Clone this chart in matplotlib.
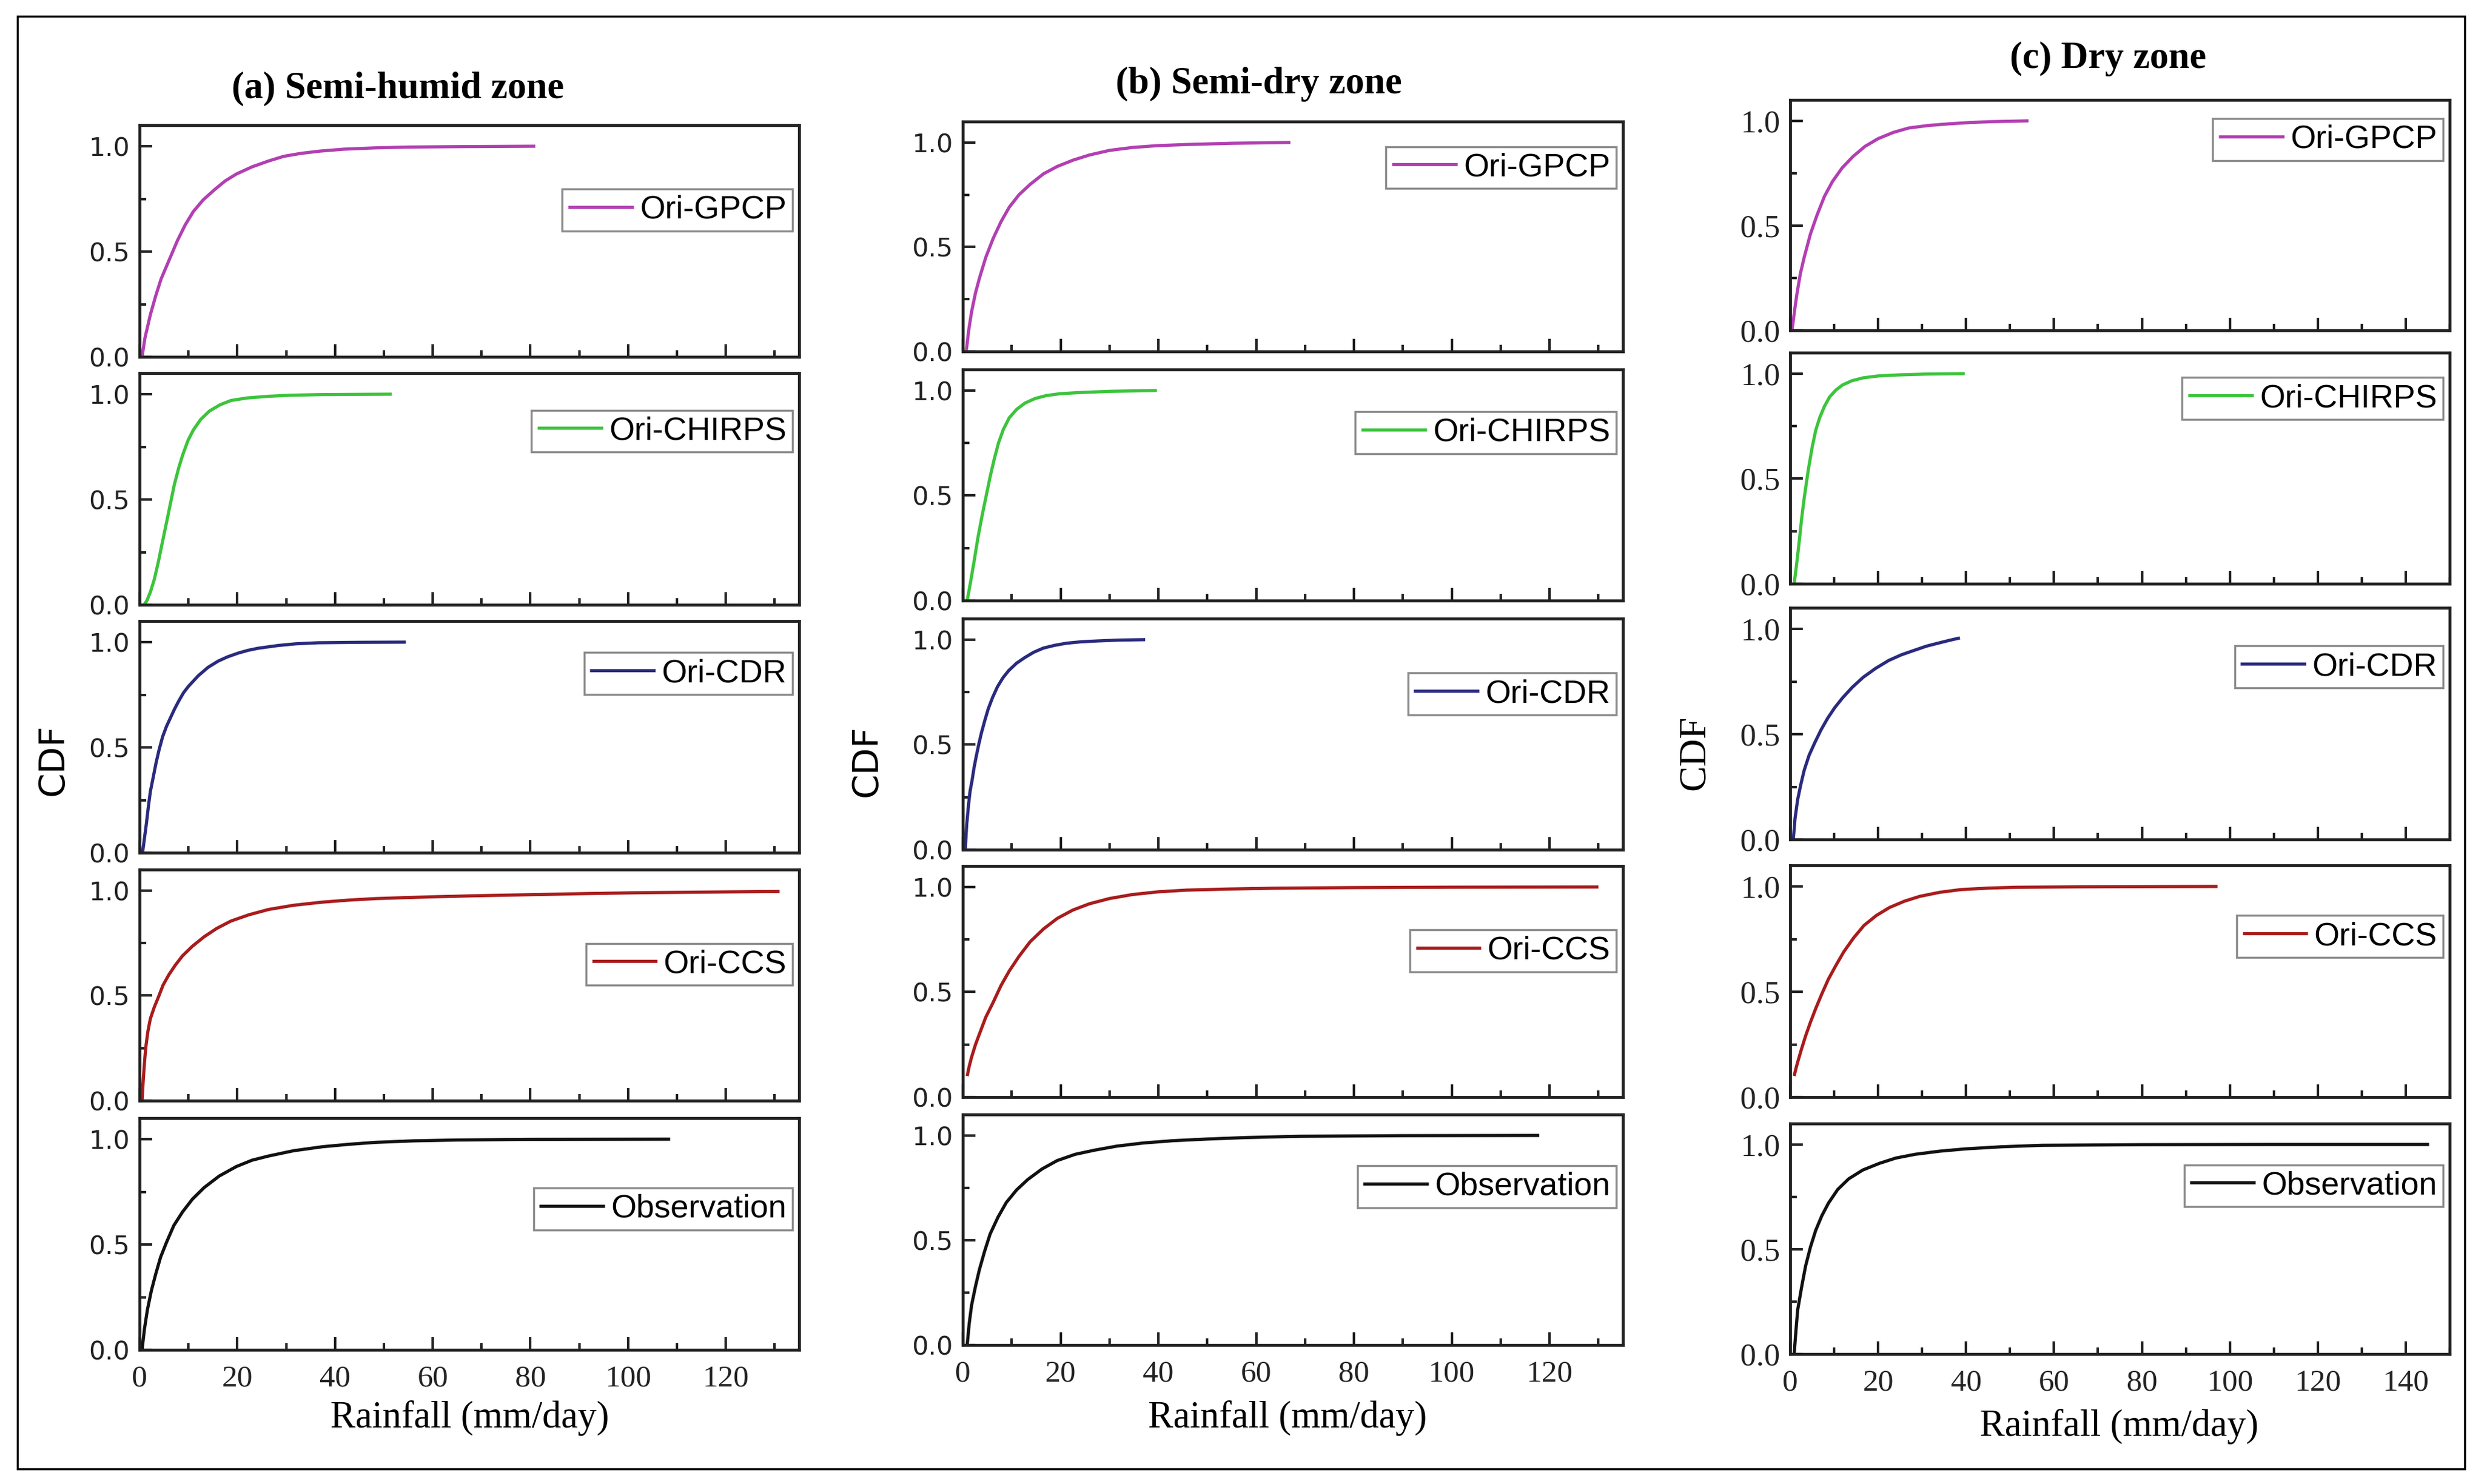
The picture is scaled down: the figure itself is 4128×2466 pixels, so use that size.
import matplotlib
matplotlib.use("Agg")
import matplotlib.pyplot as plt
from matplotlib.patches import Rectangle
from matplotlib.ticker import MultipleLocator, FormatStrFormatter

# ---- data (rainfall in mm/day, CDF values) ----
zones = ["(a) Semi-humid zone", "(b) Semi-dry zone", "(c) Dry zone"]
products = ["Ori-GPCP", "Ori-CHIRPS", "Ori-CDR", "Ori-CCS", "Observation"]
colors = ["#b23fb2", "#3cc43c", "#2a2a7e", "#a81c1c", "#111111"]

# semi-humid zone
a_gpcp_x = [0.5, 1.1, 2.2, 3.3, 4.4, 5.5, 7.7, 9.3, 11, 13, 15.4, 17.5, 19.8, 23, 26.4, 29.5, 33, 37, 41.8, 48, 55, 65, 81]
a_gpcp_y = [0.0, 0.09, 0.2, 0.29, 0.37, 0.43, 0.55, 0.625, 0.69, 0.745, 0.795, 0.835, 0.868, 0.902, 0.93, 0.952, 0.966, 0.977, 0.986, 0.992, 0.996, 0.998, 1.0]
a_chirps_x = [0.9, 1.5, 2.2, 3.0, 3.8, 4.6, 5.5, 6.3, 7.1, 8.0, 8.8, 9.9, 11, 12.5, 14.3, 16.5, 18.7, 22, 26.4, 31, 37, 44, 51.6]
a_chirps_y = [0.0, 0.02, 0.06, 0.12, 0.2, 0.29, 0.39, 0.48, 0.57, 0.65, 0.71, 0.78, 0.83, 0.88, 0.92, 0.95, 0.97, 0.982, 0.99, 0.995, 0.998, 0.999, 1.0]
a_cdr_x = [0.6, 1.0, 1.4, 1.8, 2.2, 2.8, 3.4, 4.0, 4.7, 5.5, 6.3, 7.1, 8.0, 9.0, 10, 11, 12, 14, 16.1, 18, 20.2, 22.2, 24.3, 28.4, 32, 36.6, 45, 54.5]
a_cdr_y = [0.0, 0.07, 0.14, 0.22, 0.29, 0.36, 0.43, 0.49, 0.55, 0.6, 0.64, 0.68, 0.72, 0.76, 0.79, 0.815, 0.84, 0.88, 0.91, 0.93, 0.948, 0.961, 0.971, 0.984, 0.992, 0.997, 0.999, 1.0]
a_ccs_x = [0.5, 0.7, 0.9, 1.1, 1.3, 1.7, 2.2, 3.0, 3.8, 4.8, 6, 7.3, 8.8, 10.8, 13.2, 15.8, 18.7, 22.4, 26.4, 31.5, 37.4, 43, 48.4, 59.3, 70, 81.3, 92, 103, 117, 131]
a_ccs_y = [0.0, 0.08, 0.15, 0.21, 0.26, 0.33, 0.39, 0.445, 0.49, 0.55, 0.6, 0.645, 0.69, 0.735, 0.78, 0.82, 0.855, 0.885, 0.91, 0.93, 0.945, 0.955, 0.962, 0.97, 0.976, 0.981, 0.986, 0.99, 0.993, 0.996]
a_obs_x = [0.5, 1.0, 1.6, 2.4, 3.3, 4.3, 5.5, 7, 8.8, 10.8, 13.2, 16.3, 19.8, 23, 26.4, 31.5, 37.4, 43, 48.4, 56, 64.8, 80, 108.6]
a_obs_y = [0.0, 0.1, 0.19, 0.28, 0.36, 0.44, 0.51, 0.59, 0.655, 0.715, 0.77, 0.825, 0.87, 0.9, 0.92, 0.945, 0.964, 0.976, 0.985, 0.992, 0.996, 0.999, 1.0]

# semi-dry zone
b_gpcp_x = [0.7, 1.2, 1.8, 2.6, 3.4, 4.7, 6.2, 7.8, 9.5, 11.5, 13.8, 16.5, 19.3, 22.5, 25.9, 30, 34.7, 40, 45.7, 55, 67]
b_gpcp_y = [0.0, 0.1, 0.19, 0.28, 0.35, 0.45, 0.54, 0.62, 0.69, 0.75, 0.8, 0.85, 0.885, 0.915, 0.94, 0.962, 0.976, 0.985, 0.99, 0.996, 1.0]
b_chirps_x = [0.9, 1.6, 2.3, 3.1, 4.0, 4.8, 5.6, 6.4, 7.3, 8.3, 9.5, 11, 12.7, 14.8, 17.1, 20, 23.7, 30, 39.7]
b_chirps_y = [0.0, 0.09, 0.185, 0.3, 0.41, 0.5, 0.59, 0.67, 0.75, 0.815, 0.87, 0.91, 0.94, 0.962, 0.976, 0.985, 0.99, 0.996, 1.0]
b_cdr_x = [0.5, 0.8, 1.2, 1.5, 1.9, 2.3, 2.8, 3.3, 3.8, 4.5, 5.2, 6.1, 7.1, 8.2, 9.4, 11, 12.7, 14.5, 16.5, 18.8, 21.2, 24.3, 27.8, 32, 37.3]
b_cdr_y = [0.0, 0.12, 0.22, 0.28, 0.33, 0.39, 0.45, 0.505, 0.555, 0.615, 0.67, 0.725, 0.776, 0.818, 0.853, 0.888, 0.915, 0.94, 0.96, 0.973, 0.983, 0.99, 0.994, 0.998, 1.0]
b_ccs_x = [0.9, 1.3, 1.8, 2.6, 3.4, 4.7, 6.2, 7.8, 9.5, 11.5, 13.8, 16.5, 19.3, 22.5, 25.9, 30, 34.7, 40, 45.7, 54, 63.3, 80, 100, 130]
b_ccs_y = [0.1, 0.145, 0.19, 0.25, 0.3, 0.38, 0.45, 0.53, 0.6, 0.67, 0.74, 0.8, 0.85, 0.89, 0.92, 0.945, 0.964, 0.977, 0.985, 0.99, 0.994, 0.997, 0.999, 1.0]
b_obs_x = [0.9, 1.3, 1.8, 2.6, 3.4, 4.5, 5.6, 7.2, 8.9, 11, 13.3, 16.2, 19.3, 23, 27, 31.5, 36.9, 43, 50.1, 58, 68.8, 90, 117.9]
b_obs_y = [0.0, 0.1, 0.19, 0.28, 0.36, 0.45, 0.53, 0.61, 0.68, 0.74, 0.79, 0.84, 0.88, 0.91, 0.93, 0.949, 0.964, 0.975, 0.983, 0.99, 0.996, 0.999, 1.0]

# dry zone
c_gpcp_x = [0.4, 0.9, 1.5, 2.3, 3.2, 4.6, 6.1, 7.8, 9.6, 11.8, 14.3, 17, 20, 23.5, 27, 31.5, 36.3, 41, 45.5, 50, 54.2]
c_gpcp_y = [0.0, 0.08, 0.17, 0.27, 0.35, 0.46, 0.55, 0.64, 0.71, 0.775, 0.83, 0.878, 0.915, 0.945, 0.966, 0.978, 0.986, 0.992, 0.996, 0.998, 1.0]
c_chirps_x = [0.9, 1.5, 2.1, 2.6, 3.2, 4.1, 5, 5.8, 6.7, 7.8, 9, 10.4, 11.9, 14, 16.6, 20, 24.7, 31, 39.7]
c_chirps_y = [0.0, 0.1, 0.21, 0.31, 0.41, 0.54, 0.65, 0.73, 0.79, 0.845, 0.89, 0.922, 0.946, 0.966, 0.98, 0.989, 0.994, 0.998, 1.0]
c_cdr_x = [0.7, 1.1, 1.7, 2.4, 3.2, 4.3, 5.6, 7, 8.5, 10.1, 11.9, 14.1, 16.6, 19.4, 22.4, 25.3, 28.2, 31, 34, 36.3, 38.6]
c_cdr_y = [0.0, 0.1, 0.19, 0.26, 0.33, 0.4, 0.46, 0.52, 0.575, 0.625, 0.672, 0.722, 0.77, 0.812, 0.85, 0.877, 0.898, 0.918, 0.934, 0.946, 0.957]
c_ccs_x = [0.9, 1.3, 1.7, 2.6, 3.5, 4.6, 5.8, 7.2, 8.7, 10.4, 12.2, 14.4, 16.8, 19.6, 22.6, 26, 29.5, 34, 38.8, 45, 51.5, 65, 80, 97.2]
c_ccs_y = [0.1, 0.135, 0.166, 0.23, 0.29, 0.355, 0.42, 0.49, 0.56, 0.625, 0.69, 0.755, 0.815, 0.862, 0.9, 0.93, 0.953, 0.972, 0.985, 0.992, 0.996, 0.998, 0.999, 1.0]
c_obs_x = [0.9, 1.3, 1.7, 2.6, 3.5, 4.6, 5.8, 7.2, 8.7, 10.8, 13.3, 16.5, 20.3, 24, 28.4, 34, 39.9, 48, 57.3, 80, 110, 145.3]
c_obs_y = [0.0, 0.11, 0.21, 0.32, 0.42, 0.51, 0.59, 0.66, 0.72, 0.785, 0.836, 0.878, 0.91, 0.935, 0.953, 0.968, 0.979, 0.989, 0.996, 0.999, 1.0, 1.0]

curves = [
    [(a_gpcp_x, a_gpcp_y), (a_chirps_x, a_chirps_y), (a_cdr_x, a_cdr_y), (a_ccs_x, a_ccs_y), (a_obs_x, a_obs_y)],
    [(b_gpcp_x, b_gpcp_y), (b_chirps_x, b_chirps_y), (b_cdr_x, b_cdr_y), (b_ccs_x, b_ccs_y), (b_obs_x, b_obs_y)],
    [(c_gpcp_x, c_gpcp_y), (c_chirps_x, c_chirps_y), (c_cdr_x, c_cdr_y), (c_ccs_x, c_ccs_y), (c_obs_x, c_obs_y)],
]
x_max = [135, 135, 150]

# legend vertical placement (axes fraction) per panel
legend_y = [
    [0.634, 0.75, 0.774, 0.59, 0.608],
    [0.80, 0.727, 0.674, 0.633, 0.687],
    [0.828, 0.802, 0.745, 0.693, 0.73],
]

# ---- layout in pixels of the 4128 x 2466 canvas ----
W, H = 4128, 2466
col_left = [232, 1600, 2975]
col_width = [1096, 1097, 1096]
panel_rows = [
    [(208, 593), (620, 1005), (1032, 1417), (1445, 1829), (1858, 2243)],
    [(202, 584), (614, 998), (1028, 1412), (1439, 1823), (1852, 2235)],
    [(166, 549), (586, 970), (1010, 1395), (1438, 1823), (1867, 2250)],
]
title_pos = [(661, 147), (2092, 140), (3503, 98)]
cdf_pos = [(88, 1262), (1440, 1264), (2817, 1251)]
xlabel_pos = [(781, 2356), (2140, 2356), (3522, 2371)]

serif = "Liberation Serif"
sans = "DejaVu Sans"
legend_font = "Liberation Sans"

fig = plt.figure(figsize=(W / 100, H / 100), dpi=100)

for c in range(3):
    for r in range(5):
        top, bot = panel_rows[c][r]
        ax = fig.add_axes([col_left[c] / W, 1 - bot / H, col_width[c] / W, (bot - top) / H])
        xs, ys = curves[c][r]
        ax.plot(xs, ys, color=colors[r], lw=3.8, label=products[r],
                solid_joinstyle="round", solid_capstyle="butt")
        ax.set_xlim(0, x_max[c])
        ax.set_ylim(0, 1.1)
        ax.xaxis.set_major_locator(MultipleLocator(20))
        ax.xaxis.set_minor_locator(MultipleLocator(10))
        ax.yaxis.set_major_locator(MultipleLocator(0.5))
        ax.yaxis.set_minor_locator(MultipleLocator(0.25))
        ax.yaxis.set_major_formatter(FormatStrFormatter("%.1f"))
        ax.tick_params(which="both", direction="in", top=False, right=False, width=3, color="#222222")
        ax.tick_params(which="major", length=15)
        ax.tick_params(which="minor", length=8)
        ax.tick_params(axis="y", pad=12)
        ax.tick_params(axis="x", pad=18)
        for sp in ax.spines.values():
            sp.set_linewidth(3.5)
            sp.set_color("#222222")
        for lab in ax.get_yticklabels():
            if c == 2:
                lab.set_fontfamily(serif)
                lab.set_fontsize(38)
            else:
                lab.set_fontfamily(sans)
                lab.set_fontsize(31)
            lab.set_color("#222222")
        if r == 4:
            for lab in ax.get_xticklabels():
                lab.set_fontfamily(serif)
                lab.set_fontsize(37)
                lab.set_color("#222222")
        else:
            ax.set_xticklabels([])
        leg = ax.legend(loc="center right", bbox_to_anchor=(0.99, legend_y[c][r]),
                        prop={"family": legend_font, "size": 39}, frameon=True, fancybox=False,
                        borderpad=0.18, handlelength=2.0, handletextpad=0.2, borderaxespad=0)
        leg.get_frame().set_edgecolor("#707070")
        leg.get_frame().set_linewidth(2.5)

    fig.text(title_pos[c][0] / W, 1 - title_pos[c][1] / H, zones[c], family=serif,
             weight="bold", fontsize=45, ha="center", va="center")
    fig.text(cdf_pos[c][0] / W, 1 - cdf_pos[c][1] / H, "CDF",
             family=serif if c == 2 else sans, fontsize=46 if c == 2 else 42,
             rotation=90, ha="center", va="center")
    fig.text(xlabel_pos[c][0] / W, 1 - xlabel_pos[c][1] / H, "Rainfall (mm/day)", family=serif,
             fontsize=45, ha="center", va="center")

fig.patches.append(Rectangle((29 / W, 1 - 2441 / H), (4096 - 29) / W, (2441 - 27) / H,
                             transform=fig.transFigure, fill=False, lw=2.5, edgecolor="black"))

fig.savefig("out.png", dpi=100, facecolor="white")
